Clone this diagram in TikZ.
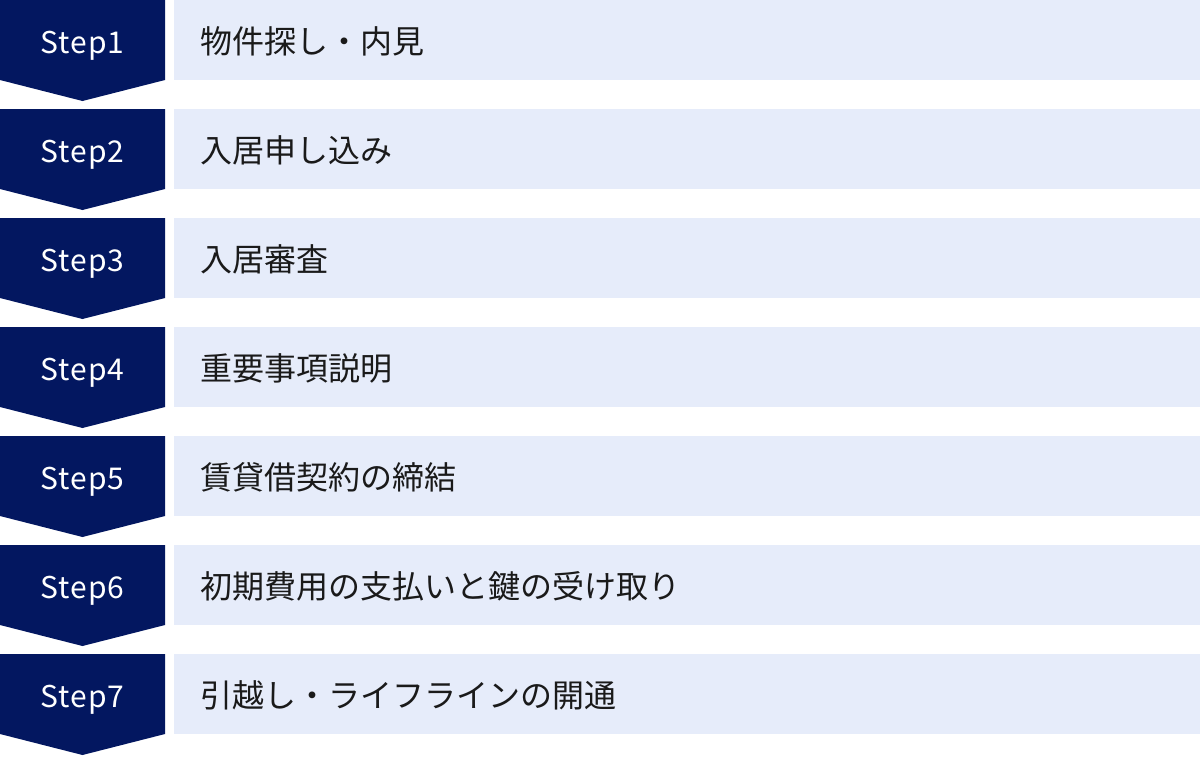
\documentclass[tikz,border=0pt]{standalone}
\usepackage{fontspec}
\setmainfont{Noto Sans CJK JP}
\newfontfamily\stepfont[LetterSpace=3.5]{Noto Sans CJK JP}
\definecolor{stepnavy}{RGB}{3,23,96}
\definecolor{stepbg}{RGB}{230,236,250}
\definecolor{tasktext}{RGB}{26,26,26}

\begin{document}
\begin{tikzpicture}[x=1pt, y=-1pt]
    \tikzset{StepArrow/.style = {fill = stepnavy},
             StepLabel/.style = {text = white, anchor = base, font = \stepfont\fontsize{30}{34}\selectfont},
             TaskBox/.style = {fill = stepbg, text = tasktext, anchor = north west,
                 minimum width = 1026pt, minimum height = 80pt, inner xsep = 26pt, inner ysep = 0pt,
                 text height = 53pt, text depth = 27pt,
                 text width = 974pt, align = left, font = \fontsize{32}{36}\selectfont}}
    \useasboundingbox (0,0) rectangle (1200,756);
    \foreach \i/\task in {1/物件探し・内見, 2/入居申し込み, 3/入居審査, 4/重要事項説明,
                          5/賃貸借契約の締結, 6/初期費用の支払いと鍵の受け取り,
                          7/引越し・ライフラインの開通} {
        \pgfmathsetmacro{\rowtop}{(\i-1)*109}
        \fill[StepArrow] (0,\rowtop) -- ++(165,0) -- ++(0,80) -- ++(-82.5,21)
            -- ++(-82.5,-21) -- cycle;
        \node[StepLabel] (s\i) at (82.5,\rowtop+53) {Step\i};
        \node[TaskBox] (t\i) at (174,\rowtop) {\task};
    }
\end{tikzpicture}
\end{document}
